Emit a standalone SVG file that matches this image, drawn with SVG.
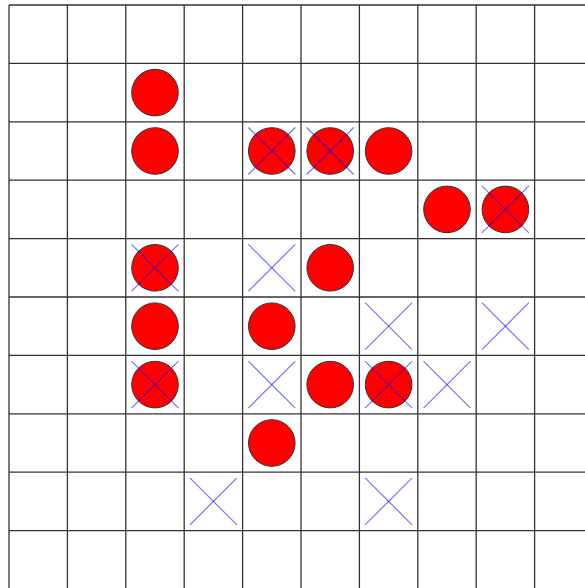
<svg xmlns="http://www.w3.org/2000/svg" width="585" height="588" viewBox="0 0 585 588">
<defs>
<style>
.grid line{stroke:#333;stroke-width:1.3}
.stone{fill:#ff0000;stroke:#333;stroke-width:1}
.cross{stroke:#0000ff;stroke-opacity:0.55;stroke-width:1.2}
</style>
<g id="x"><line x1="-23.5" y1="-23.5" x2="23.5" y2="23.5"/><line x1="-23.5" y1="23.5" x2="23.5" y2="-23.5"/></g>
</defs>
<rect width="585" height="588" fill="#fff"/>
<g id="grid" class="grid">
<line x1="9" y1="5" x2="9" y2="590"/>
<line x1="67.4" y1="5" x2="67.4" y2="590"/>
<line x1="125.8" y1="5" x2="125.8" y2="590"/>
<line x1="184.2" y1="5" x2="184.2" y2="590"/>
<line x1="242.6" y1="5" x2="242.6" y2="590"/>
<line x1="301" y1="5" x2="301" y2="590"/>
<line x1="359.4" y1="5" x2="359.4" y2="590"/>
<line x1="417.8" y1="5" x2="417.8" y2="590"/>
<line x1="476.2" y1="5" x2="476.2" y2="590"/>
<line x1="534.6" y1="5" x2="534.6" y2="590"/>
<line x1="9" y1="5" x2="590" y2="5"/>
<line x1="9" y1="63.4" x2="590" y2="63.4"/>
<line x1="9" y1="121.8" x2="590" y2="121.8"/>
<line x1="9" y1="180.2" x2="590" y2="180.2"/>
<line x1="9" y1="238.6" x2="590" y2="238.6"/>
<line x1="9" y1="297" x2="590" y2="297"/>
<line x1="9" y1="355.4" x2="590" y2="355.4"/>
<line x1="9" y1="413.8" x2="590" y2="413.8"/>
<line x1="9" y1="472.2" x2="590" y2="472.2"/>
<line x1="9" y1="530.6" x2="590" y2="530.6"/>
</g>
<g id="c2-1"><circle class="stone" cx="155" cy="92.6" r="23.3"/></g>
<g id="c2-2"><circle class="stone" cx="155" cy="151" r="23.3"/></g>
<g id="c4-2"><circle class="stone" cx="271.8" cy="151" r="23.3"/><use href="#x" class="cross" x="271.8" y="151"/></g>
<g id="c5-2"><circle class="stone" cx="330.2" cy="151" r="23.3"/><use href="#x" class="cross" x="330.2" y="151"/></g>
<g id="c6-2"><circle class="stone" cx="388.6" cy="151" r="23.3"/></g>
<g id="c7-3"><circle class="stone" cx="447" cy="209.4" r="23.3"/></g>
<g id="c8-3"><circle class="stone" cx="505.4" cy="209.4" r="23.3"/><use href="#x" class="cross" x="505.4" y="209.4"/></g>
<g id="c2-4"><circle class="stone" cx="155" cy="267.8" r="23.3"/><use href="#x" class="cross" x="155" y="267.8"/></g>
<g id="c4-4"><use href="#x" class="cross" x="271.8" y="267.8"/></g>
<g id="c5-4"><circle class="stone" cx="330.2" cy="267.8" r="23.3"/></g>
<g id="c2-5"><circle class="stone" cx="155" cy="326.2" r="23.3"/></g>
<g id="c4-5"><circle class="stone" cx="271.8" cy="326.2" r="23.3"/></g>
<g id="c6-5"><use href="#x" class="cross" x="388.6" y="326.2"/></g>
<g id="c8-5"><use href="#x" class="cross" x="505.4" y="326.2"/></g>
<g id="c2-6"><circle class="stone" cx="155" cy="384.6" r="23.3"/><use href="#x" class="cross" x="155" y="384.6"/></g>
<g id="c4-6"><use href="#x" class="cross" x="271.8" y="384.6"/></g>
<g id="c5-6"><circle class="stone" cx="330.2" cy="384.6" r="23.3"/></g>
<g id="c6-6"><circle class="stone" cx="388.6" cy="384.6" r="23.3"/><use href="#x" class="cross" x="388.6" y="384.6"/></g>
<g id="c7-6"><use href="#x" class="cross" x="447" y="384.6"/></g>
<g id="c4-7"><circle class="stone" cx="271.8" cy="443" r="23.3"/></g>
<g id="c3-8"><use href="#x" class="cross" x="213.4" y="501.4"/></g>
<g id="c6-8"><use href="#x" class="cross" x="388.6" y="501.4"/></g>
</svg>
